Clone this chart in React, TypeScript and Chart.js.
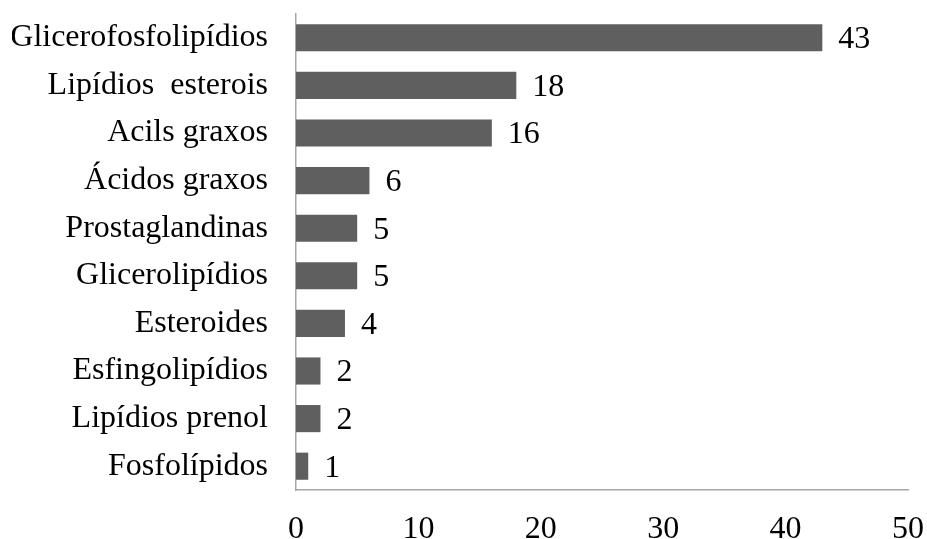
import React, { useEffect, useRef } from "react";
import { Chart, registerables } from "chart.js";

Chart.register(...registerables);

const categories = [
  "Glicerofosfolipídios",
  "Lipídios  esterois",
  "Acils graxos",
  "Ácidos graxos",
  "Prostaglandinas",
  "Glicerolipídios",
  "Esteroides",
  "Esfingolipídios",
  "Lipídios prenol",
  "Fosfolípidos",
];
const counts = [43, 18, 16, 6, 5, 5, 4, 2, 2, 1];
const xTicks = [0, 10, 20, 30, 40, 50];

const FONT = "'Liberation Serif', 'Times New Roman', serif";
const FONT_SIZE = 32;

// Writes each bar's value just past its end
const valueLabels = {
  id: "valueLabels",
  afterDatasetsDraw(chart: any) {
    const ctx = chart.ctx;
    const meta = chart.getDatasetMeta(0);
    ctx.save();
    ctx.font = `${FONT_SIZE}px ${FONT}`;
    ctx.fillStyle = "#000";
    ctx.textAlign = "left";
    ctx.textBaseline = "middle";
    meta.data.forEach((bar: any, i: number) => {
      ctx.fillText(String(counts[i]), bar.x + 16, bar.y + 2);
    });
    ctx.restore();
  },
};

export default function App() {
  const ref = useRef<HTMLCanvasElement>(null);

  useEffect(() => {
    if (!ref.current) return;
    const chart = new Chart(ref.current, {
      type: "bar",
      data: {
        labels: categories,
        datasets: [
          {
            data: counts,
            backgroundColor: "#5f5f5f",
            borderWidth: 0,
            barPercentage: 1,
            categoryPercentage: 0.57,
          },
        ],
      },
      options: {
        indexAxis: "y",
        animation: false,
        responsive: false,
        maintainAspectRatio: false,
        layout: { padding: { left: 12, top: 14, right: 19, bottom: 0 } },
        plugins: {
          legend: { display: false },
          tooltip: { enabled: false },
        },
        scales: {
          x: {
            min: 0,
            max: 50,
            afterBuildTicks: (scale: any) => {
              scale.ticks = xTicks.map((v) => ({ value: v }));
            },
            afterFit: (scale: any) => {
              scale.height = 49;
              scale.paddingLeft = 0;
              scale.paddingRight = 0;
            },
            grid: { display: false, drawTicks: false },
            border: { display: true, color: "#a6a6a6", width: 1.5 },
            ticks: {
              padding: 20,
              color: "#000",
              font: { family: FONT, size: FONT_SIZE },
            },
          },
          y: {
            afterFit: (scale: any) => {
              scale.width = 284;
              scale.paddingTop = 0;
              scale.paddingBottom = 0;
            },
            grid: { display: false, drawTicks: false },
            border: { display: true, color: "#a6a6a6", width: 1.5 },
            ticks: {
              padding: 28,
              color: "#000",
              font: { family: FONT, size: FONT_SIZE },
            },
          },
        },
      },
      plugins: [valueLabels],
    });
    return () => chart.destroy();
  }, []);

  return (
    <div style={{ position: "absolute", left: 0, top: 0, width: 927, height: 539, background: "#fff" }}>
      <canvas ref={ref} width={927} height={539} />
    </div>
  );
}
